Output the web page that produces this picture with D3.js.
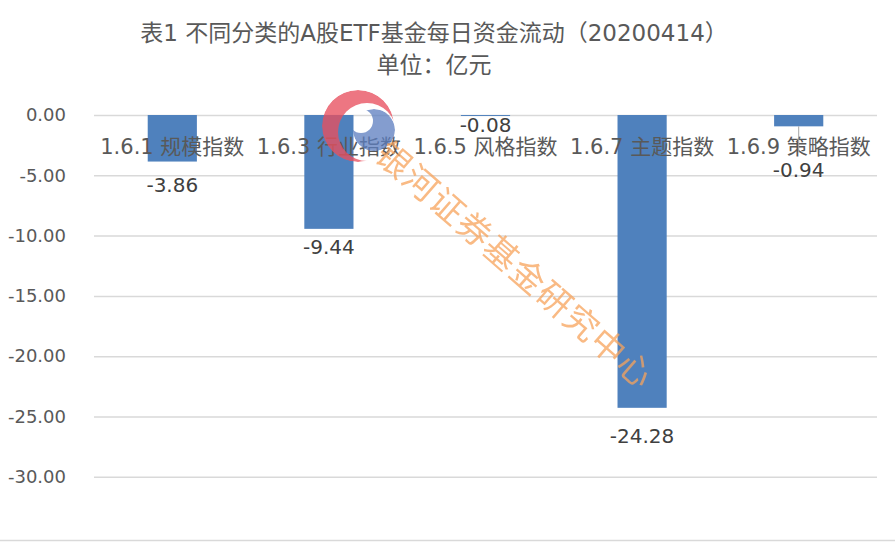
<!DOCTYPE html>
<html><head><meta charset="utf-8">
<script src="https://cdn.jsdelivr.net/npm/d3@7"></script>
<style>
html,body{margin:0;padding:0;background:#fff;}
svg{display:block;}
</style></head>
<body>
<svg id="chart" width="895" height="542"></svg>
<script>
const titleLines = ["表1  不同分类的A股ETF基金每日资金流动（20200414）", "单位：亿元"];
const categories = ["1.6.1 规模指数", "1.6.3 行业指数", "1.6.5 风格指数", "1.6.7 主题指数", "1.6.9 策略指数"];
const values = [-3.86, -9.44, -0.08, -24.28, -0.94];
const yTicks = [0, -5, -10, -15, -20, -25, -30];
const watermarkText = "银河证券基金研究中心";

const W = 895, H = 542;
const m = {left: 94, right: 18, top: 115, bottom: 5};
const svg = d3.select("#chart");
const font = "'DejaVu Sans','Noto Sans CJK SC',sans-serif";
const fmt = d => d3.format(".2f")(d).replace("\u2212","-");

svg.append("rect").attr("x",0).attr("y",0).attr("width",W).attr("height",H).attr("fill","#fff");
svg.append("line").attr("x1",0).attr("x2",W).attr("y1",H-1.5).attr("y2",H-1.5)
  .attr("stroke","#d9d9d9").attr("stroke-width",1.5);

const x = d3.scaleBand().domain(categories).range([m.left, W - m.right]).paddingInner(0.686).paddingOuter(0.343);
const y = d3.scaleLinear().domain([0, -35]).range([m.top, m.top + 35*12.06]);

// title
svg.append("g").selectAll("text").data(titleLines).join("text")
  .attr("x", 434).attr("y", (d,i)=> 41 + i*32)
  .attr("text-anchor","middle").attr("font-family",font).attr("font-size",23)
  .attr("fill","#595959").text(d=>d);

// gridlines + y axis
const yAxis = d3.axisLeft(y).tickValues(yTicks).tickFormat(fmt)
  .tickSize(-(W - m.right - m.left)).tickPadding(28);
const gy = svg.append("g").attr("transform",`translate(${m.left},0)`).call(yAxis);
gy.select(".domain").remove();
gy.selectAll(".tick line").attr("stroke","#d9d9d9").attr("stroke-width",1.5);
gy.selectAll(".tick text").attr("font-family",font).attr("font-size",18).attr("fill","#595959");

// bars
svg.append("g").selectAll("rect").data(values).join("rect")
  .attr("x",(d,i)=>x(categories[i])).attr("width",x.bandwidth())
  .attr("y",y(0)).attr("height",d=>y(d)-y(0)).attr("fill","#4f81bd");

// category labels (next to axis, below zero line)
svg.append("g").selectAll("text").data(categories).join("text")
  .attr("x",d=>x(d)+x.bandwidth()/2).attr("y",y(0)+39)
  .attr("text-anchor","middle").attr("font-family",font).attr("font-size",21)
  .attr("fill","#595959").text(d=>d);

// data labels (manual offsets as in reference)
const labelDy = [30, 25, 16, 35, 51];
svg.append("g").selectAll("text").data(values).join("text")
  .attr("x",(d,i)=>x(categories[i])+x.bandwidth()/2)
  .attr("y",(d,i)=>y(d)+labelDy[i])
  .attr("text-anchor","middle").attr("font-family",font).attr("font-size",20)
  .attr("fill","#404040").text(fmt);
// leader line for last label
const li = 4;
svg.append("line").attr("x1",x(categories[li])+x.bandwidth()/2).attr("x2",x(categories[li])+x.bandwidth()/2)
  .attr("y1",y(values[li])).attr("y2",y(values[li])+26).attr("stroke","#a6a6a6").attr("stroke-width",1);

// watermark logo
const defs = svg.append("defs");
const m1 = defs.append("mask").attr("id","redMask");
m1.append("rect").attr("x",0).attr("y",0).attr("width",W).attr("height",H).attr("fill","#000");
m1.append("circle").attr("cx",358).attr("cy",126).attr("r",36).attr("fill","#fff");
m1.append("circle").attr("cx",367).attr("cy",132).attr("r",29).attr("fill","#000");
const m2 = defs.append("mask").attr("id","blueMask");
m2.append("rect").attr("x",0).attr("y",0).attr("width",W).attr("height",H).attr("fill","#000");
m2.append("circle").attr("cx",374).attr("cy",130).attr("r",21).attr("fill","#fff");
m2.append("circle").attr("cx",361).attr("cy",121).attr("r",12).attr("fill","#000");
svg.append("circle").attr("cx",358).attr("cy",126).attr("r",36).attr("fill","#e8505f")
  .attr("opacity",0.78).attr("mask","url(#redMask)");
svg.append("circle").attr("cx",374).attr("cy",130).attr("r",21).attr("fill","#5b7dc0")
  .attr("opacity",0.75).attr("mask","url(#blueMask)");

// watermark text
svg.append("text").attr("transform","translate(373,158) rotate(41)")
  .attr("font-family","'Noto Sans CJK SC',sans-serif").attr("font-size",34)
  .attr("fill","#f7a35c").attr("opacity",0.75).attr("letter-spacing",1.5).text(watermarkText);
</script>
</body></html>
